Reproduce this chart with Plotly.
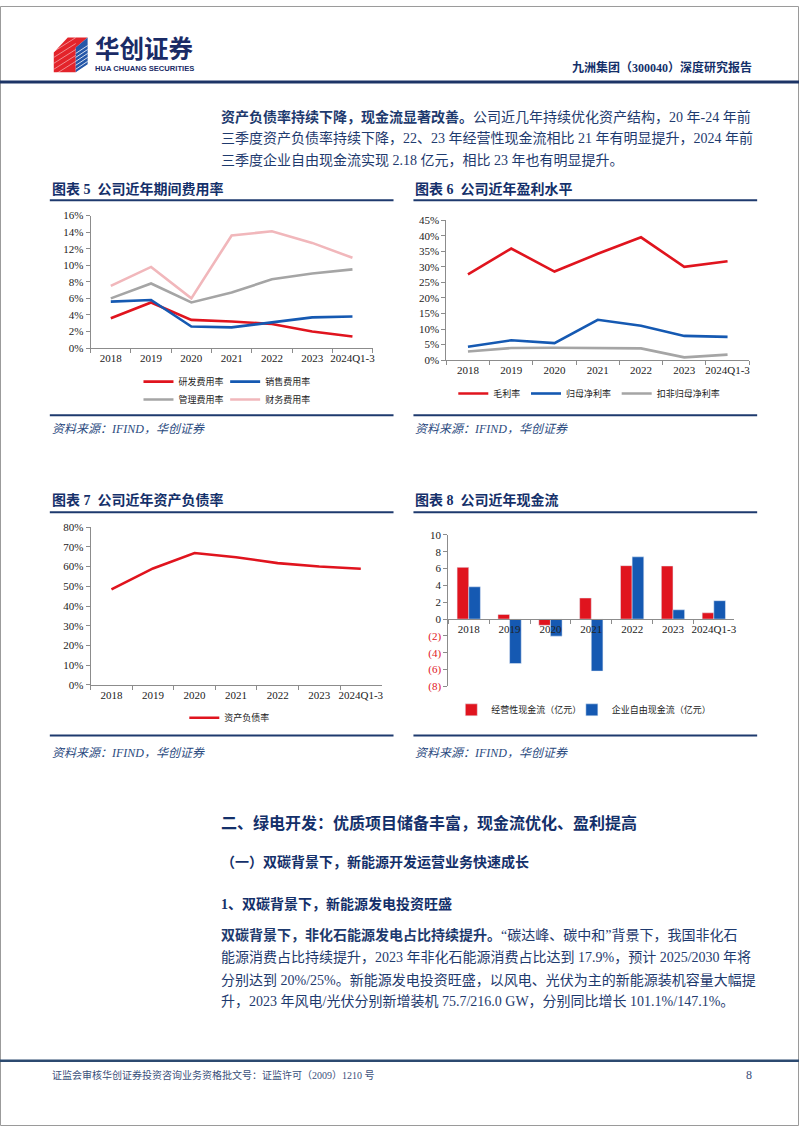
import plotly.graph_objects as go

W, H = 802, 1133
def px(x): return x / W
def py(y): return 1 - y / H

# ---------------- data ----------------
cats = ["2018", "2019", "2020", "2021", "2022", "2023", "2024Q1-3"]

rd_rate = [3.6, 5.5, 3.4, 3.2, 2.9, 2.0, 1.4]        # 研发费用率
sales_rate = [5.6, 5.8, 2.6, 2.5, 3.1, 3.7, 3.8]     # 销售费用率
admin_rate = [6.0, 7.8, 5.5, 6.7, 8.3, 9.0, 9.5]     # 管理费用率
fin_rate = [7.5, 9.8, 6.0, 13.6, 14.1, 12.7, 10.9]   # 财务费用率

gross_margin = [27.6, 35.9, 28.5, 34.2, 39.5, 30.0, 31.8]   # 毛利率
net_margin = [4.3, 6.4, 5.5, 13.0, 11.1, 7.8, 7.5]          # 归母净利率
adj_net_margin = [2.8, 3.9, 4.0, 3.9, 3.8, 0.9, 1.8]        # 扣非归母净利率

debt_ratio = [48.5, 59.1, 66.9, 64.8, 61.8, 60.1, 58.9]     # 资产负债率

op_cf = [6.14, 0.55, -0.74, 2.50, 6.34, 6.30, 0.74]         # 经营性现金流（亿元）
fcf = [3.83, -5.28, -2.03, -6.18, 7.39, 1.10, 2.18]         # 企业自由现金流（亿元）

cf_ticks = [-8, -6, -4, -2, 0, 2, 4, 6, 8, 10]

# ---------------- styles ----------------
RED = "#E0141E"
BLUE = "#1559B2"
GRAY = "#A5A5A5"
PINK = "#F1B7BB"
NAVY = "#1E3A6E"
DARK = "#14306A"
CJK = "Liberation Serif, Noto Sans CJK SC"
AXC = "#8C8C8C"

fig = go.Figure()

def add_line(x, y, name, color, ax, leg):
    fig.add_trace(go.Scatter(x=x, y=y, name=name, mode="lines",
                             line=dict(color=color, width=2.6),
                             xaxis="x" + ax, yaxis="y" + ax, legend=leg,
                             showlegend=True, hoverinfo="skip"))

# chart 5
add_line(cats, rd_rate, "研发费用率", RED, "", "legend")
add_line(cats, sales_rate, "销售费用率", BLUE, "", "legend2")
add_line(cats, admin_rate, "管理费用率", GRAY, "", "legend3")
add_line(cats, fin_rate, "财务费用率", PINK, "", "legend4")
# chart 6
add_line(cats, gross_margin, "毛利率", RED, "2", "legend5")
add_line(cats, net_margin, "归母净利率", BLUE, "2", "legend6")
add_line(cats, adj_net_margin, "扣非归母净利率", GRAY, "2", "legend7")
# chart 7
add_line(cats, debt_ratio, "资产负债率", RED, "3", "legend8")
# chart 8
fig.add_trace(go.Bar(x=cats, y=op_cf, name="经营性现金流（亿元）", marker_color=RED,
                     xaxis="x4", yaxis="y4", legend="legend9", showlegend=True,
                     hoverinfo="skip"))
fig.add_trace(go.Bar(x=cats, y=fcf, name="企业自由现金流（亿元）", marker_color=BLUE,
                     xaxis="x4", yaxis="y4", legend="legend10", showlegend=True,
                     hoverinfo="skip"))

tickfont = dict(family="Liberation Serif", size=11, color="#222")

def xax(x0, x1, anchor, **kw):
    d = dict(domain=[px(x0), px(x1)], anchor=anchor, type="category",
             range=[-0.5, 6.5], showline=True, linecolor=AXC, linewidth=1,
             ticks="outside", tickson="boundaries", ticklen=4, tickcolor=AXC,
             tickangle=0, showgrid=False, zeroline=False, tickfont=tickfont,
             fixedrange=True)
    d.update(kw)
    return d

def yax(y0, y1, anchor, rng, dtick, suffix="%", **kw):
    d = dict(domain=[py(y1), py(y0)], anchor=anchor, range=rng, dtick=dtick,
             ticksuffix=suffix, showline=True, linecolor=AXC, linewidth=1,
             ticks="outside", ticklen=4, tickcolor=AXC, showgrid=False,
             zeroline=False, tickfont=tickfont, fixedrange=True)
    d.update(kw)
    return d

# chart 8 zero-line position
y8_top, y8_bot = 535.0, 688.3
y8_min, y8_max = -8, 10
zero_px = y8_top + (y8_max - 0) / (y8_max - y8_min) * (y8_bot - y8_top)

ticktext8 = [("<span style='color:%s'>(%d)</span>" % (RED, -v)) if v < 0 else str(v) for v in cf_ticks]

fig.update_layout(
    width=W, height=H, margin=dict(l=0, r=0, t=0, b=0, pad=0), autosize=False,
    paper_bgcolor="white", plot_bgcolor="white", hovermode=False, showlegend=True,
    barmode="group", bargap=0.43, bargroupgap=0,
    xaxis=xax(91, 374, "y"),
    yaxis=yax(212, 346, "x", [0, 16], 2),
    xaxis2=xax(448, 752, "y2"),
    yaxis2=yax(216.7, 358.3, "x2", [0, 45], 5),
    xaxis3=xax(91, 383, "y3"),
    yaxis3=yax(527.3, 686.7, "x3", [0, 80], 10),
    xaxis4=xax(450, 737, "free", position=py(zero_px)),
    yaxis4=yax(y8_top, y8_bot, "x4", [y8_min, y8_max], 2, suffix="",
               tickmode="array", tickvals=cf_ticks, ticktext=ticktext8),
)

def leg(x, y):
    return dict(x=px(x), y=py(y), xanchor="left", yanchor="middle", orientation="h",
                bgcolor="rgba(0,0,0,0)", borderwidth=0, itemwidth=30,
                font=dict(family=CJK, size=9, color="#222"), itemclick=False,
                itemdoubleclick=False)

legpos = {
    "legend": (139, 380), "legend2": (226, 380),
    "legend3": (139, 398), "legend4": (226, 398),
    "legend5": (455, 392), "legend6": (528, 392), "legend7": (619, 392),
    "legend8": (185, 720),
    "legend9": (453, 712), "legend10": (574, 712),
}
fig.update_layout(**{k: leg(*v) for k, v in legpos.items()})

# ---------------- shapes ----------------
shapes = []
def hline(x0, x1, y, w, color=NAVY):
    shapes.append(dict(type="line", xref="paper", yref="paper", x0=px(x0), x1=px(x1),
                       y0=py(y), y1=py(y), line=dict(color=color, width=w)))

# page border
shapes.append(dict(type="rect", xref="paper", yref="paper", x0=px(0.5), x1=px(801.5),
                   y0=py(1132.5), y1=py(0.5), line=dict(color="#9A9A9A", width=1)))
hline(0, 802, 77, 3, "#1C3466")
hline(0, 802, 1067, 2.5, "#2C4A70")
# chart title underlines and source lines
for (a, b) in [(50, 395), (415, 760)]:
    hline(a, b, 196.5, 2)
    hline(a, b, 414, 2)
    hline(a, b, 512, 2)
    hline(a, b, 738, 2)

# logo
def path(pts, color):
    d = "M " + " L ".join("%.4f,%.4f" % (px(x), py(y)) for x, y in pts) + " Z"
    shapes.append(dict(type="path", xref="paper", yref="paper", path=d,
                       fillcolor=color, line=dict(width=0)))
path([(54, 47), (68, 32), (88, 32), (76, 42), (76, 67), (54, 67)], "#E3242B")
path([(76, 42), (88, 32), (88, 59), (76, 67)], "#2457A8")
for i in range(6):
    yy = 44 + i * 4
    shapes.append(dict(type="line", xref="paper", yref="paper", x0=px(76), x1=px(88),
                       y0=py(yy + 4), y1=py(yy - 4), line=dict(color="white", width=0.8)))
for i in range(5):
    yy = 36 + i * 6
    shapes.append(dict(type="line", xref="paper", yref="paper", x0=px(54), x1=px(76),
                       y0=py(yy + 10), y1=py(yy - 4), line=dict(color="rgba(255,255,255,0.6)", width=0.8)))

fig.update_layout(shapes=shapes)

# ---------------- text ----------------
ann = []
def text(x, y, s, size, color=NAVY, anchor="left", family=CJK):
    ann.append(dict(xref="paper", yref="paper", x=px(x), y=py(y), text=s,
                    showarrow=False, xanchor=anchor, yanchor="middle",
                    font=dict(family=family, size=size, color=color)))

text(93, 42, "<b>华创证券</b>", 24.5, "#1A2B66", family="Noto Sans CJK SC")
text(93, 63, "<b>HUA CHUANG SECURITIES</b>", 7.6, "#1A2B66", family="Liberation Sans")
text(757, 62, "<b>九洲集团（300040）深度研究报告</b>", 12, DARK, anchor="right")

p1 = [
    "<b>资产负债率持续下降，现金流显著改善。</b>公司近几年持续优化资产结构，20 年-24 年前",
    "三季度资产负债率持续下降，22、23 年经营性现金流相比 21 年有明显提升，2024 年前",
    "三季度企业自由现金流实现 2.18 亿元，相比 23 年也有明显提升。",
]
for i, s in enumerate(p1):
    text(220, 112 + i * 22, s, 14)

text(50, 185, "<b>图表 5  公司近年期间费用率</b>", 14, DARK)
text(415, 185, "<b>图表 6  公司近年盈利水平</b>", 14, DARK)
text(50, 500, "<b>图表 7  公司近年资产负债率</b>", 14, DARK)
text(415, 500, "<b>图表 8  公司近年现金流</b>", 14, DARK)
for (x, y) in [(50, 428), (415, 428), (50, 756), (415, 756)]:
    text(x, y, "<i>资料来源：IFIND，华创证券</i>", 12, "#2A4A80")

text(220, 826, "<b>二、绿电开发：优质项目储备丰富，现金流优化、盈利提高</b>", 16, DARK)
text(220, 866, "<b>（一）双碳背景下，新能源开发运营业务快速成长</b>", 14, DARK)
text(220, 908, "<b>1、双碳背景下，新能源发电投资旺盛</b>", 14, DARK)
p2 = [
    "<b>双碳背景下，非化石能源发电占比持续提升。</b>“碳达峰、碳中和”背景下，我国非化石",
    "能源消费占比持续提升，2023 年非化石能源消费占比达到 17.9%，预计 2025/2030 年将",
    "分别达到 20%/25%。新能源发电投资旺盛，以风电、光伏为主的新能源装机容量大幅提",
    "升，2023 年风电/光伏分别新增装机 75.7/216.0 GW，分别同比增长 101.1%/147.1%。",
]
for i, s in enumerate(p2):
    text(220, 940 + i * 22.5, s, 14)

text(50, 1081, "证监会审核华创证券投资咨询业务资格批文号：证监许可（2009）1210 号", 10, "#3A4F7A")
text(757, 1081, "8", 12, "#3A4F7A", anchor="right")

fig.update_layout(annotations=ann)

fig.write_html(
    "out.html",
    config={"responsive": False, "displayModeBar": False},
    post_script="document.body.style.margin='0';document.body.style.padding='0';"
                "document.documentElement.style.overflow='hidden';"
                "document.body.style.overflow='hidden';",
)
